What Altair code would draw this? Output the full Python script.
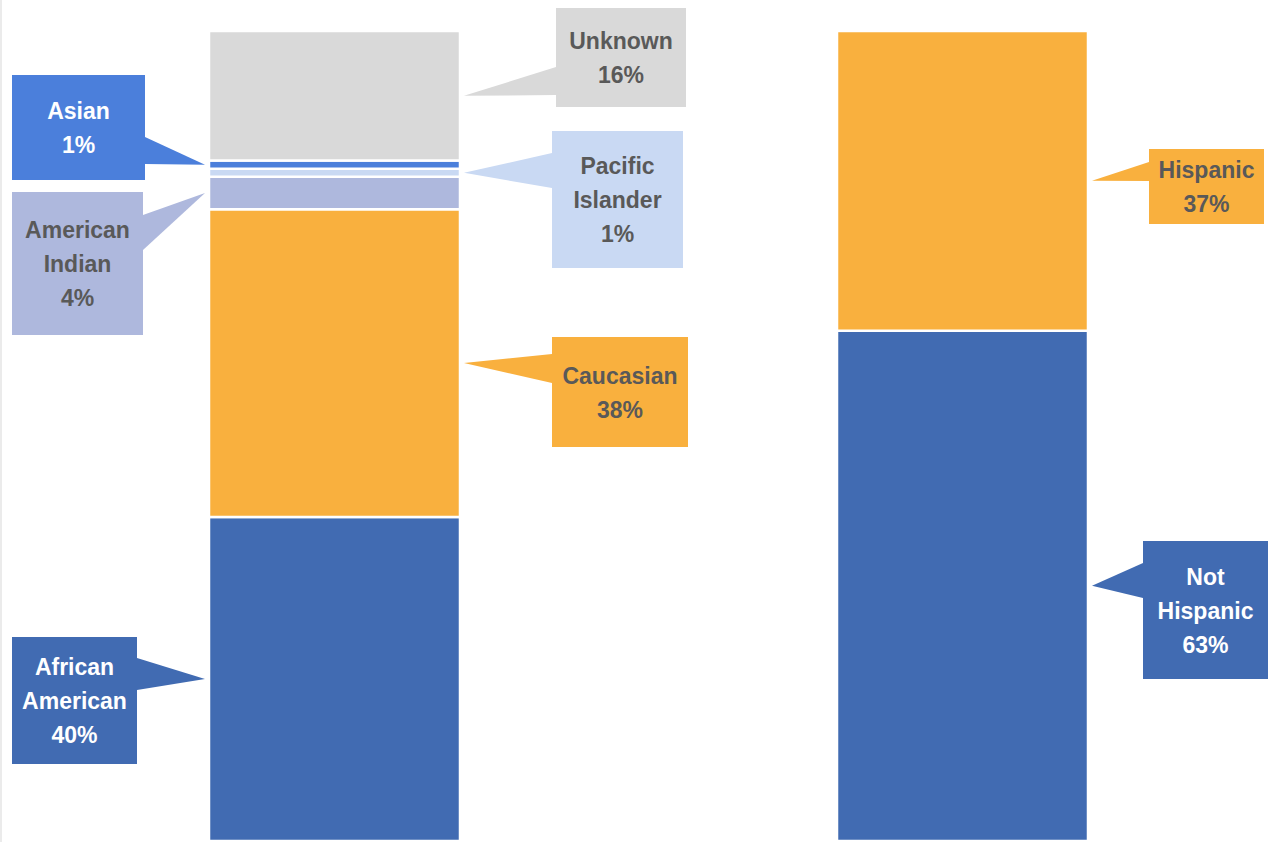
import altair as alt
import pandas as pd

# ---------------- data ----------------
race_names = ["African American", "Caucasian", "American Indian",
              "Pacific Islander", "Asian", "Unknown"]
race_values = [40, 38, 4, 1, 1, 16]
eth_names = ["Not Hispanic", "Hispanic"]
eth_values = [63, 37]

# ---------------- styles ----------------
fills = {
    "African American": "#416BB2", "Caucasian": "#F9B03E",
    "American Indian": "#AEB8DD", "Pacific Islander": "#C9D9F3",
    "Asian": "#4B7FDB", "Unknown": "#D9D9D9",
    "Not Hispanic": "#416BB2", "Hispanic": "#F9B03E",
}
text_colors = {
    "African American": "white", "Asian": "white", "Not Hispanic": "white",
}
DARK = "#595959"

# ---------------- layout (pixels) ----------------
W, H = 1270, 842
Y0_PX, Y100_PX = 841, 31           # pixel rows of 0% and 100%
bars = {"race": (209, 460), "eth": (837, 1088)}
# callout boxes: x0, x1, y0, y1, pointer base y0, y1, side of bar
callouts = {
    "Unknown":          (556, 686, 8, 107, 67, 95, "right"),
    "Pacific Islander": (552, 683, 131, 268, 153, 188, "right"),
    "Caucasian":        (552, 688, 337, 447, 354, 383, "right"),
    "Asian":            (12, 145, 75, 180, 137, 164, "left"),
    "American Indian":  (12, 143, 192, 335, 215, 250, "left"),
    "African American": (12, 137, 637, 764, 658, 690, "left"),
    "Hispanic":         (1149, 1264, 149, 224, 162, 181, "right"),
    "Not Hispanic":     (1143, 1268, 541, 679, 563, 598, "right"),
}
TIP_GAP = 4
LINE_H = 34
TEXT_SHIFT = 1.5


def px_to_val(py):
    return (Y0_PX - py) / ((Y0_PX - Y100_PX) / 100.0)


# ---------------- tables ----------------
seg_rows = []
for group, names, vals in (("race", race_names, race_values),
                           ("eth", eth_names, eth_values)):
    start = 0
    for n, v in zip(names, vals):
        seg_rows.append(dict(group=group, name=n, value=v, start=start,
                             end=start + v, mid=start + v / 2,
                             x0=bars[group][0], x1=bars[group][1],
                             fill=fills[n]))
        start += v
segs = pd.DataFrame(seg_rows)

box_rows, ptr_rows, txt_rows = [], [], []
for _, s in segs.iterrows():
    n = s["name"]
    bx0, bx1, by0, by1, pb0, pb1, side = callouts[n]
    box_rows.append(dict(name=n, x0=bx0, x1=bx1, y0=px_to_val(by0),
                         y1=px_to_val(by1), fill=fills[n]))
    if side == "right":
        base_x, tip_x = bx0, s["x1"] + TIP_GAP
    else:
        base_x, tip_x = bx1, s["x0"] - TIP_GAP
    ptr_rows.append(dict(name=n, x=base_x, y=px_to_val(pb0),
                         y2=px_to_val(pb1), fill=fills[n]))
    ptr_rows.append(dict(name=n, x=tip_x, y=s["mid"], y2=s["mid"],
                         fill=fills[n]))
    label = n.replace(" ", "\n") + "\n" + f"{s['value']}%"
    nlines = label.count("\n") + 1
    first_line_px = (by0 + by1) / 2 + TEXT_SHIFT - (nlines - 1) * LINE_H / 2
    txt_rows.append(dict(name=n, x=(bx0 + bx1) / 2,
                         y=px_to_val(first_line_px), label=label,
                         color=text_colors.get(n, DARK)))
boxes = pd.DataFrame(box_rows)
ptrs = pd.DataFrame(ptr_rows)
texts = pd.DataFrame(txt_rows)

# ---------------- scales ----------------
xs = alt.Scale(domain=[0, W], range=[0, W], nice=False, zero=False)
ys = alt.Scale(domain=[0, 100], range=[Y0_PX, Y100_PX], nice=False,
               zero=False)
noax = None

bar_layer = alt.Chart(segs).mark_rect(stroke="white", strokeWidth=2.5).encode(
    x=alt.X("x0:Q", scale=xs, axis=noax), x2="x1:Q",
    y=alt.Y("start:Q", scale=ys, axis=noax), y2="end:Q",
    fill=alt.Fill("fill:N", scale=None),
)

ptr_layer = alt.Chart(ptrs).mark_area(interpolate="linear").encode(
    x=alt.X("x:Q", scale=xs, axis=noax),
    y=alt.Y("y:Q", scale=ys, axis=noax), y2="y2:Q",
    fill=alt.Fill("fill:N", scale=None),
    detail="name:N",
)

box_layer = alt.Chart(boxes).mark_rect().encode(
    x=alt.X("x0:Q", scale=xs, axis=noax), x2="x1:Q",
    y=alt.Y("y0:Q", scale=ys, axis=noax), y2="y1:Q",
    fill=alt.Fill("fill:N", scale=None),
)

txt_layer = alt.Chart(texts).mark_text(
    font="Liberation Sans", fontWeight="bold", fontSize=23,
    lineBreak="\n", lineHeight=LINE_H, align="center", baseline="middle",
).encode(
    x=alt.X("x:Q", scale=xs, axis=noax),
    y=alt.Y("y:Q", scale=ys, axis=noax),
    text="label:N",
    color=alt.Color("color:N", scale=None),
)

edge = alt.Chart(pd.DataFrame({"a": [0]})).mark_rule(
    color="#e4e4e4", strokeWidth=1.5).encode(
    x=alt.value(1), y=alt.value(0), y2=alt.value(H))

chart = alt.layer(edge, bar_layer, ptr_layer, box_layer, txt_layer).properties(
    width=W, height=H, padding=0, autosize=alt.AutoSizeParams(type="none"),
    background="white",
).configure_view(stroke=None)

chart.save("out.html", embed_options={"renderer": "svg", "actions": False})
